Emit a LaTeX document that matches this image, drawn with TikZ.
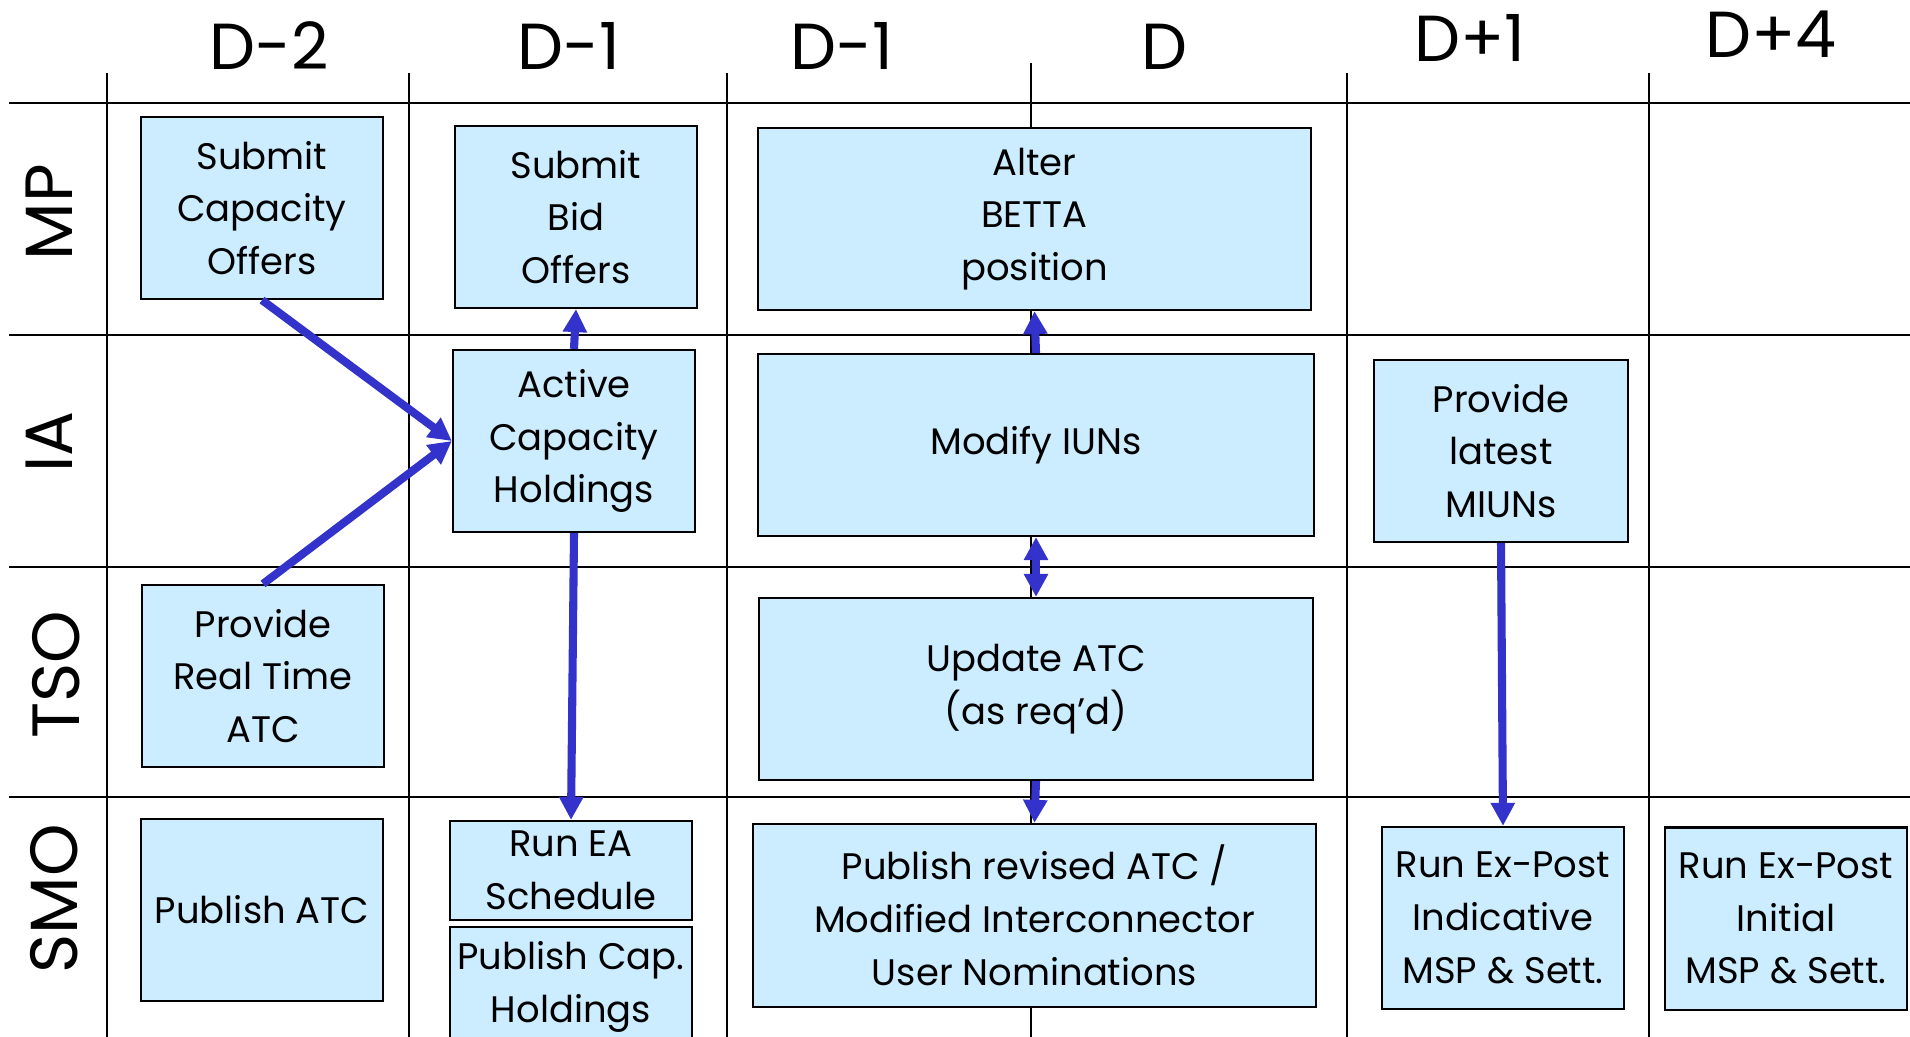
\documentclass[tikz,border=0pt]{standalone}
\usepackage{fontspec}
\setmainfont{Poppins}
\usetikzlibrary{arrows.meta}

\definecolor{boxblue}{RGB}{204,236,255}
\definecolor{flowblue}{RGB}{51,51,204}

\begin{document}
\begin{tikzpicture}[x=0.01cm, y=-0.01cm,
    >={Triangle[length=2.3mm, width=2.3mm]},
    grid/.style={line width=0.7pt},
    task/.style={draw, line width=0.6pt, fill=boxblue, align=center, inner sep=0pt,
        font=\fontsize{10.5}{15}\selectfont, minimum width=2.42cm, minimum height=1.82cm},
    flow/.style={draw=flowblue, line width=2.3pt},
    day/.style={anchor=base, inner sep=0pt, font=\fontsize{18.5}{19}\selectfont},
    lane/.style={rotate=90, inner sep=0pt, font=\fontsize{19}{19}\selectfont}]

    \clip (0,0) rectangle (1910,1037);

    % swim lane grid
    \foreach \y in {103,335,567,797}
        \draw[grid] (9,\y) -- (1910,\y);
    \foreach \x in {107,409,727,1347,1649}
        \draw[grid] (\x,73) -- (\x,1037);
    \draw[grid] (1031,63) -- (1031,1037);

    \node[day] (d2)  at (269,70) {D-2};
    \node[day] (d1a) at (569,70) {D-1};
    \node[day] (d1b) at (842,70) {D-1};
    \node[day] (d0)  at (1164,70) {D};
    \node[day] (dp1) at (1470,62) {D+1};
    \node[day] (dp4) at (1771,58) {D+4};

    \node[lane] (mp)  at (49,212) {MP};
    \node[lane] (ia)  at (49,442) {IA};
    \node[lane] (tso) at (56,675) {TSO};
    \node[lane] (smo) at (54,899) {SMO};

    % tasks
    \node[task] (capoffers) at (262,208) {Submit\\Capacity\\Offers};
    \node[task] (bidoffers) at (576,217) {Submit\\Bid\\Offers};
    \node[task, minimum width=5.53cm] (betta) at (1034.5,219) {Alter\\BETTA\\position};

    \node[task] (holdings) at (574,441) {Active\\Capacity\\Holdings};
    \node[task, minimum width=5.56cm] (iuns) at (1036,445) {Modify IUNs};
    \node[task, minimum width=2.54cm] (miuns) at (1501,451) {Provide\\latest\\MIUNs};

    \node[task] (rtatc) at (263,676) {Provide\\Real Time\\ATC};
    \node[task, minimum width=5.54cm] (updatc) at (1036,689) {Update ATC\\(as req’d)};

    \node[task] (pubatc) at (262,910) {Publish ATC};
    \node[task, minimum height=0.99cm] (runea) at (571,870.5) {Run EA\\Schedule};
    \node[task, minimum height=1.2cm] (pubcap) at (571,987) {Publish Cap.\\Holdings};
    \node[task, minimum width=5.63cm, minimum height=1.83cm] (revised) at (1034.5,915.5)
        {Publish revised ATC /\\Modified Interconnector\\User Nominations};
    \node[task] (expostind) at (1503,918) {Run Ex-Post\\Indicative\\MSP \& Sett.};
    \node[task] (expostinit) at (1786,918.5) {Run Ex-Post\\Initial\\MSP \& Sett.};

    % flows
    \draw[flow, ->] (capoffers.south) -- (holdings.west);
    \draw[flow, ->] (rtatc.north) -- (holdings.west);
    \draw[flow, ->] (holdings.north) -- (bidoffers.south);
    \draw[flow, ->] (holdings.south) -- (runea.north);
    \draw[flow, ->] (iuns.north) -- (betta.south);
    \draw[flow, <->] (iuns.south) -- (updatc.north);
    \draw[flow, ->] (updatc.south) -- (revised.north);
    \draw[flow, ->] (miuns.south) -- (expostind.north);

\end{tikzpicture}
\end{document}
